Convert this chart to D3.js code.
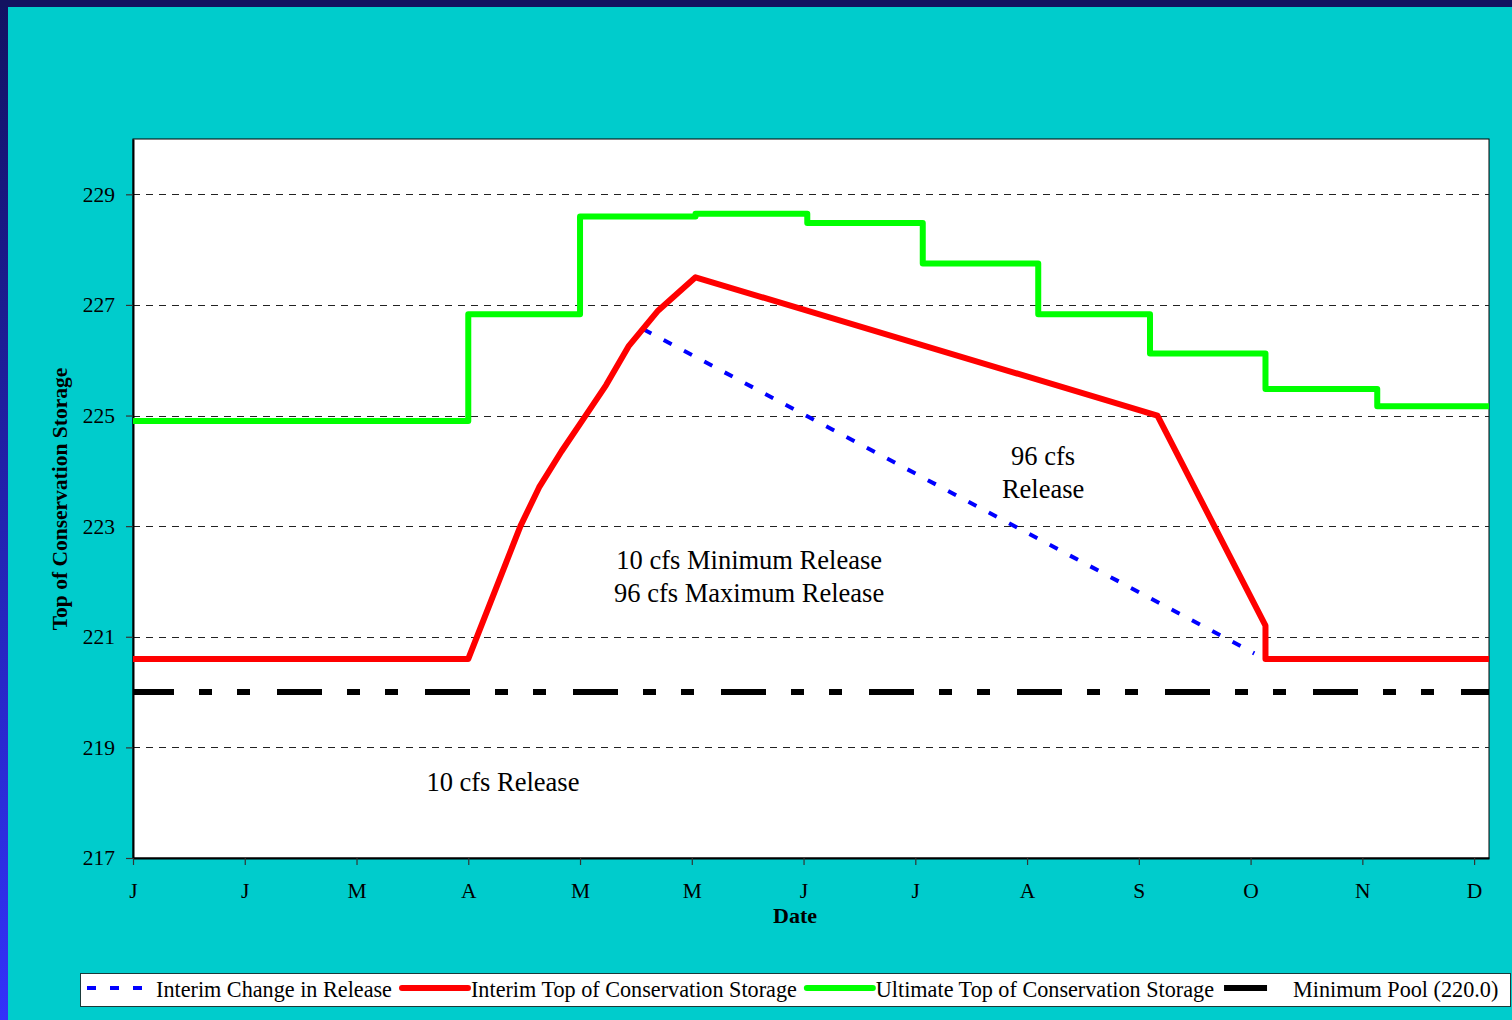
<!DOCTYPE html>
<html>
<head>
<meta charset="utf-8">
<script src="https://cdnjs.cloudflare.com/ajax/libs/d3/7.8.5/d3.min.js"></script>
<style>
  body { margin: 0; overflow: hidden; background: #00cccc; }
  svg { display: block; font-family: "Liberation Serif", "Times New Roman", serif; }
</style>
</head>
<body>
<div id="chart"></div>
<script>
// Date axis: Excel style, a major tick every 30 days from Jan 1
var tickDays = [0, 30, 60, 90, 120, 150, 180, 210, 240, 270, 300, 330, 360];
var tickLabels = ["J", "J", "M", "A", "M", "M", "J", "J", "A", "S", "O", "N", "D"];
var yTicks = [217, 219, 221, 223, 225, 227, 229];
var gridValues = [219, 221, 223, 225, 227, 229];

// Ultimate Top of Conservation Storage (value holds until the next day)
var ultimateDays = [0, 90, 120, 151, 181, 212, 243, 273, 304, 334, 364];
var ultimateValues = [224.9, 226.83, 228.6, 228.65, 228.48, 227.75, 226.83, 226.12, 225.48, 225.17, 225.17];

// Interim Top of Conservation Storage
var interimDays = [0, 90, 104, 109, 115, 121, 127, 133, 141, 151, 275, 304, 304, 364];
var interimValues = [220.6, 220.6, 223.0, 223.7, 224.35, 224.95, 225.55, 226.25, 226.9, 227.5, 225.0, 221.2, 220.6, 220.6];

// Interim Change in Release
var releaseDays = [137, 301];
var releaseValues = [226.56, 220.7];

// Minimum Pool (220.0)
var poolDays = [0, 364];
var poolValues = [220.0, 220.0];

// Legend entries
var legendLabels = ["Interim Change in Release", "Interim Top of Conservation Storage",
    "Ultimate Top of Conservation Storage", "Minimum Pool (220.0)"];

// Text notes in the plot, anchored in data units (day, value of first baseline)
var noteLines = [["96 cfs", "Release"], ["10 cfs Minimum Release", "96 cfs Maximum Release"], ["10 cfs Release"]];
var noteDays = [244.3, 165.4, 99.3];
var noteValues = [224.11, 222.22, 218.21];

var W = 1512, H = 1020;
var svg = d3.select("#chart").append("svg")
    .attr("width", W)
    .attr("height", H);

// Slide style background: teal with a navy frame on top and left
var defs = svg.append("defs");
var grad = defs.append("linearGradient")
    .attr("id", "edge")
    .attr("x1", 0).attr("y1", 0).attr("x2", 0).attr("y2", 1);
grad.append("stop").attr("offset", "0%").attr("stop-color", "#121262");
grad.append("stop").attr("offset", "100%").attr("stop-color", "#3333fa");

svg.append("rect").attr("width", W).attr("height", H).attr("fill", "#00cccc");
svg.append("rect").attr("width", 8).attr("height", H).attr("fill", "url(#edge)");
svg.append("rect").attr("width", W).attr("height", 7).attr("fill", "#131260");

var margin = {left: 133, top: 139, right: 23, bottom: 162};
var width = W - margin.left - margin.right;
var height = H - margin.top - margin.bottom;

var chart = svg.append("g")
    .attr("transform", "translate(" + margin.left + "," + margin.top + ")");

var x = d3.scaleLinear().domain([0, 364]).range([0, width]);
var y = d3.scaleLinear().domain([217, 230]).range([height, 0]);

// Plot area
chart.append("rect")
    .attr("width", width)
    .attr("height", height)
    .attr("fill", "#ffffff")
    .attr("stroke", "#000000")
    .attr("stroke-width", 1);

// Dashed horizontal gridlines
chart.append("g")
    .selectAll("line")
    .data(gridValues)
    .enter()
    .append("line")
    .attr("x1", 0)
    .attr("x2", width)
    .attr("y1", function (d) { return Math.round(y(d)) + 0.5; })
    .attr("y2", function (d) { return Math.round(y(d)) + 0.5; })
    .attr("stroke", "#222")
    .attr("stroke-width", 1)
    .attr("stroke-dasharray", "7,6");

// Axes
var yAxis = d3.axisLeft(y)
    .tickValues(yTicks)
    .tickSize(7)
    .tickPadding(11)
    .tickSizeOuter(0);

var xAxis = d3.axisBottom(x)
    .tickValues(tickDays)
    .tickFormat(function (d, i) { return tickLabels[i]; })
    .tickSize(7)
    .tickPadding(18)
    .tickSizeOuter(0);

var gy = chart.append("g").call(yAxis);
var gx = chart.append("g").attr("transform", "translate(0," + height + ")").call(xAxis);

[gx, gy].forEach(function (g) {
    g.attr("font-family", null).attr("font-size", null);
    g.select(".domain").attr("stroke", "#000").attr("stroke-width", 2);
    g.selectAll(".tick line").attr("stroke", "#333").attr("stroke-width", 1.2);
    g.selectAll(".tick text")
        .attr("fill", "#000")
        .style("font-size", "21.5px");
});

// Axis titles
svg.append("text")
    .text("Date")
    .attr("x", 795)
    .attr("y", 923)
    .attr("text-anchor", "middle")
    .style("font-size", "22px")
    .style("font-weight", "bold");

svg.append("text")
    .text("Top of Conservation Storage")
    .attr("transform", "translate(67,499) rotate(-90)")
    .attr("text-anchor", "middle")
    .style("font-size", "21.5px")
    .style("font-weight", "bold");

// Series
var line = d3.line()
    .x(function (d) { return x(d[0]); })
    .y(function (d) { return y(d[1]); });

var poolDash = "45,25,13,25,13,27";
var series = [
    {pts: d3.zip(releaseDays, releaseValues), color: "#0000ff", w: 4, dash: "9,14", curve: d3.curveLinear},
    {pts: d3.zip(interimDays, interimValues), color: "#ff0000", w: 6, dash: null, curve: d3.curveLinear},
    {pts: d3.zip(ultimateDays, ultimateValues), color: "#00ff00", w: 6, dash: null, curve: d3.curveStepAfter},
    {pts: d3.zip(poolDays, poolValues), color: "#000000", w: 6, dash: poolDash, curve: d3.curveLinear}
];

var lines = chart.append("g");
series.forEach(function (s) {
    lines.append("path")
        .attr("d", line.curve(s.curve)(s.pts))
        .attr("fill", "none")
        .attr("stroke", s.color)
        .attr("stroke-width", s.w)
        .attr("stroke-linejoin", "round")
        .attr("stroke-dasharray", s.dash)
        .attr("stroke-dashoffset", s.dash === poolDash ? 4 : 0);
});

// Text notes
noteLines.forEach(function (ls, i) {
    chart.append("g")
        .selectAll("text")
        .data(ls)
        .enter()
        .append("text")
        .text(function (d) { return d; })
        .attr("x", x(noteDays[i]))
        .attr("y", function (d, j) { return y(noteValues[i]) + j * 33; })
        .attr("text-anchor", "middle")
        .style("font-size", "26.5px");
});

// Legend
var legend = svg.append("g");
legend.append("rect")
    .attr("x", 80.5)
    .attr("y", 973.5)
    .attr("width", 1430)
    .attr("height", 33)
    .attr("fill", "#ffffff")
    .attr("stroke", "#1a3a3a")
    .attr("stroke-width", 1);

var lx = 87;
series.forEach(function (s, i) {
    var item = legend.append("g");
    item.append("line")
        .attr("x1", lx)
        .attr("x2", lx + 66)
        .attr("y1", 988)
        .attr("y2", 988)
        .attr("stroke", s.color)
        .attr("stroke-width", s.w)
        .attr("stroke-linecap", s.dash ? "butt" : "round")
        .attr("stroke-dasharray", s.dash === poolDash ? "43,40" : s.dash);
    var t = item.append("text")
        .text(legendLabels[i])
        .attr("x", lx + 69)
        .attr("y", 997)
        .style("font-size", "22.2px");
    lx = lx + 69 + t.node().getComputedTextLength() + 10;
});
</script>
</body>
</html>
